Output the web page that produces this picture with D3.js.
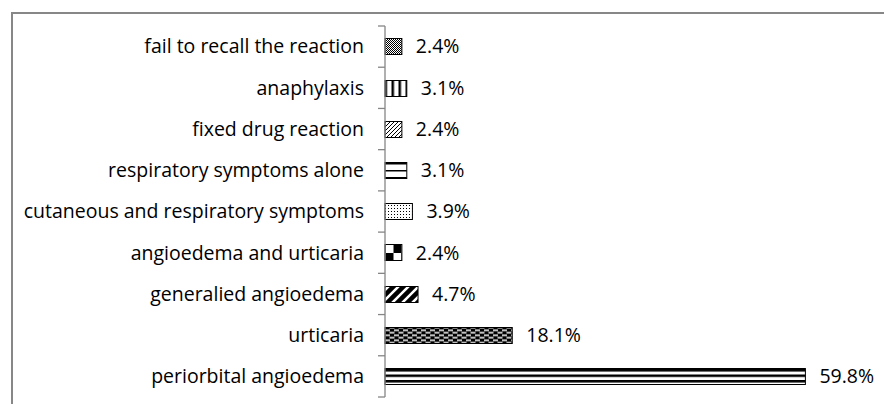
<!DOCTYPE html>
<html><head><meta charset="utf-8">
<script src="https://cdn.jsdelivr.net/npm/d3@7"></script>
<style>body{margin:0;background:#fff}svg{display:block}</style>
</head><body>
<svg id="c" width="884" height="404"></svg>
<script>
const categories = ["fail to recall the reaction","anaphylaxis","fixed drug reaction","respiratory symptoms alone","cutaneous and respiratory symptoms","angioedema and urticaria","generalied angioedema","urticaria","periorbital angioedema"];
const values = [2.4,3.1,2.4,3.1,3.9,2.4,4.7,18.1,59.8];
const valueLabels = ["2.4%","3.1%","2.4%","3.1%","3.9%","2.4%","4.7%","18.1%","59.8%"];
const patternIds = ["pFine","pVert","pDiagLight","pHoriz","pDots","pChecker","pWideDiag","pDash","pHorizWide"];

const svg = d3.select("#c");
const FONT = "'Open Sans', sans-serif";
const FS = 19.5;
svg.append("rect").attr("x",12).attr("y",13).attr("width",880).attr("height",400)
  .attr("fill","#fff").attr("stroke","#878787").attr("stroke-width",2);

const axisX = 385;
const x = d3.scaleLinear().domain([0,60]).range([axisX, axisX+60*7.03]);
const y = d3.scaleBand().domain(categories).range([26,397]).paddingInner(0.6).paddingOuter(0.3);
const barY = d=>Math.round(y(d))+0.5;

const defs = svg.append("defs");
function pat(id,w,h,draw,bg="#fff",ox=0,oy=0){
  const p = defs.append("pattern").attr("id",id).attr("patternUnits","userSpaceOnUse")
    .attr("x",ox).attr("y",oy).attr("width",w).attr("height",h);
  p.append("rect").attr("width",w).attr("height",h).attr("fill",bg);
  draw(p);
}
const box=(p,x0,y0,w,h,c="#000")=>p.append("rect").attr("x",x0).attr("y",y0).attr("width",w).attr("height",h).attr("fill",c);
pat("pFine",2,2,p=>{box(p,0,0,1,1);box(p,1,1,1,1);});
pat("pVert",7,7,p=>{box(p,0,0,2.5,7);},"#fff",axisX-0.5,0);
pat("pDiagLight",4,4,p=>{p.append("path").attr("d","M-1,1 L1,-1 M0,4 L4,0 M3,5 L5,3").attr("stroke","#000").attr("stroke-width",1);});
pat("pHoriz",7,7,p=>{box(p,0,0,7,1.5);},"#fff",0,barY(categories[3])+0.5);
pat("pDots",3,3,p=>{box(p,1,1,1,1);});
pat("pChecker",16,16,p=>{box(p,8,0,8,8);box(p,0,8,8,8);},"#fff",axisX+0.5,barY(categories[5])+0.5);
pat("pWideDiag",10,10,p=>{p.append("path").attr("d","M-2.5,2.5 L2.5,-2.5 M0,10 L10,0 M7.5,12.5 L12.5,7.5").attr("stroke","#000").attr("stroke-width",4.5);});
pat("pDash",9,5,p=>{box(p,0,1,5,1.5,"#fff");box(p,4.5,3.5,5,1.5,"#fff");box(p,-4.5,3.5,5,1.5,"#fff");},"#000",axisX,barY(categories[7])+1);
pat("pHorizWide",6,5.5,p=>{box(p,0,0,6,2.5);},"#fff",0,barY(categories[8])+0.5);

svg.append("g").selectAll("rect").data(categories).join("rect")
  .attr("x",x(0)).attr("y",barY)
  .attr("width",(d,i)=>x(values[i])-x(0)).attr("height",Math.round(y.bandwidth()))
  .attr("fill",(d,i)=>`url(#${patternIds[i]})`).attr("stroke","#000").attr("stroke-width",1);

const r = y.range();
const g = svg.append("g").attr("stroke","#868686").attr("stroke-width",1.3);
g.append("line").attr("x1",axisX).attr("x2",axisX).attr("y1",r[0]).attr("y2",r[1]);
d3.range(categories.length+1).forEach(i=>{
  const yy = r[0] + (r[1]-r[0])*i/categories.length;
  g.append("line").attr("x1",axisX-7).attr("x2",axisX).attr("y1",yy).attr("y2",yy);
});

svg.append("g").selectAll("text").data(categories).join("text")
  .attr("x",364).attr("y",d=>y(d)+y.bandwidth()/2).attr("dy","0.35em")
  .attr("text-anchor","end").attr("font-family",FONT).attr("font-size",FS).attr("fill","#000")
  .text(d=>d);
svg.append("g").selectAll("text").data(categories).join("text")
  .attr("x",(d,i)=>x(values[i])+14).attr("y",d=>y(d)+y.bandwidth()/2).attr("dy","0.35em")
  .attr("font-family",FONT).attr("font-size",FS).attr("fill","#000")
  .text((d,i)=>valueLabels[i]);
</script>
</body></html>
